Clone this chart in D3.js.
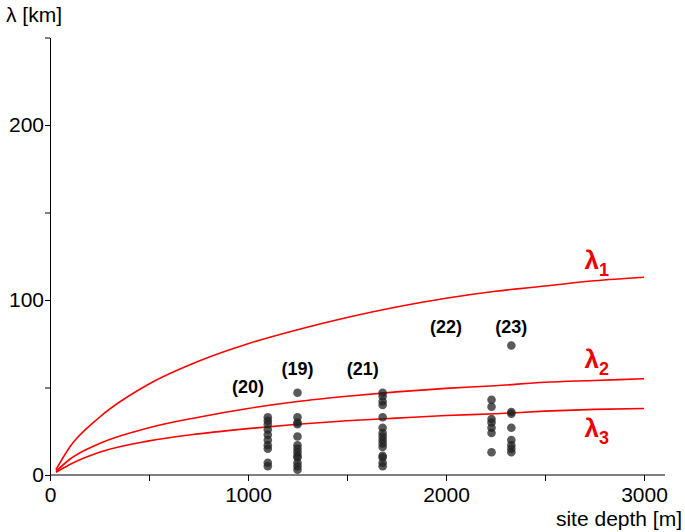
<!DOCTYPE html>
<html><head><meta charset="utf-8">
<script src="https://cdn.jsdelivr.net/npm/d3@7"></script>
<style>body{margin:0;background:#fff}text{font-family:Arial,"Liberation Sans",sans-serif}</style>
</head><body>
<script>
const depthGrid = [30,100,250,500,750,1000,1250,1500,1750,2000,2250,2500,2750,3000];
const lambda1 = [3,16,33,52,65,75,83,90,96,101,105,108,111,113];
const lambda2 = [2,9,18,27,33,38,42,45,47.5,49.5,51,53,54,55];
const lambda3 = [1.5,6,13,19.5,23.5,26.5,29,31,32.5,34,35,36.5,37.5,38];
const siteDepths = [1100,1250,1680,2230,2330];
const siteNames = ["(20)","(19)","(21)","(22)","(23)"];
const siteValues = [
  [33,31,29,26,23,20,17,15,7,5],
  [47,33,30,29,22,17,15,13,11,10,7,5,3],
  [47,45,42,40,33,27,24,22,20,18,16,11,10,7,5],
  [43,39,32,30,27,24,13],
  [74,36,35,27,20,17,15,13]
];
const siteLabelPos = [[1000,47],[1250,57],[1580,57],[2000,81],[2330,81]];
const curveLabels = [["1",2700,118],["2",2700,61],["3",2700,22]];

const W=685,H=532;
const svg=d3.select("body").append("svg").attr("width",W).attr("height",H);
const x=d3.scaleLinear().domain([0,3000]).range([50,644]);
const y=d3.scaleLinear().domain([0,250]).range([475,37.5]);

svg.append("g").attr("transform","translate(0,475)")
  .call(d3.axisBottom(x).tickValues([0,500,1000,1500,2000,2500,3000]).tickSize(6)
    .tickFormat(d=>d%1000===0?d:"").tickSizeOuter(0))
  .call(g=>{g.select(".domain").attr("d","M50,0H665");g.selectAll("text").attr("font-size",21).attr("dy","0.85em").attr("fill","#000")});
svg.append("g").attr("transform","translate(50,0)")
  .call(d3.axisLeft(y).tickValues([0,50,100,150,200,250]).tickSize(5)
    .tickFormat(d=>d%100===0?d:"").tickSizeOuter(0))
  .call(g=>g.selectAll("text").attr("font-size",21).attr("fill","#000").attr("x",-6));

svg.append("text").attr("x",6).attr("y",22).attr("font-size",21).text("λ [km]");
svg.append("text").attr("x",682).attr("y",526).attr("text-anchor","end").attr("font-size",21).text("site depth [m]");

const line=d3.line().x((d,i)=>x(depthGrid[i])).y(d=>y(d)).curve(d3.curveMonotoneX);
[lambda1,lambda2,lambda3].forEach(s=>svg.append("path").attr("d",line(s))
  .attr("fill","none").attr("stroke","#f00").attr("stroke-width",1.6));

siteValues.forEach((vals,i)=>svg.append("g").selectAll("circle").data(vals).join("circle")
  .attr("cx",x(siteDepths[i])).attr("cy",d=>y(d)).attr("r",4.3)
  .attr("fill","#222").attr("fill-opacity",0.75));

svg.selectAll(".sl").data(siteNames).join("text").attr("class","sl")
  .attr("x",(d,i)=>x(siteLabelPos[i][0])).attr("y",(d,i)=>y(siteLabelPos[i][1]))
  .attr("text-anchor","middle").attr("font-size",18).attr("font-weight","bold").text(d=>d);

curveLabels.forEach(c=>{
  const t=svg.append("text").attr("x",x(c[1])).attr("y",y(c[2])).attr("fill","#e00")
    .attr("font-family","'DejaVu Serif',serif").attr("font-weight","bold").attr("font-size",26);
  t.append("tspan").text("λ");
  t.append("tspan").attr("font-size",18).attr("dy",7).text(c[0]);
});
</script>
</body></html>
